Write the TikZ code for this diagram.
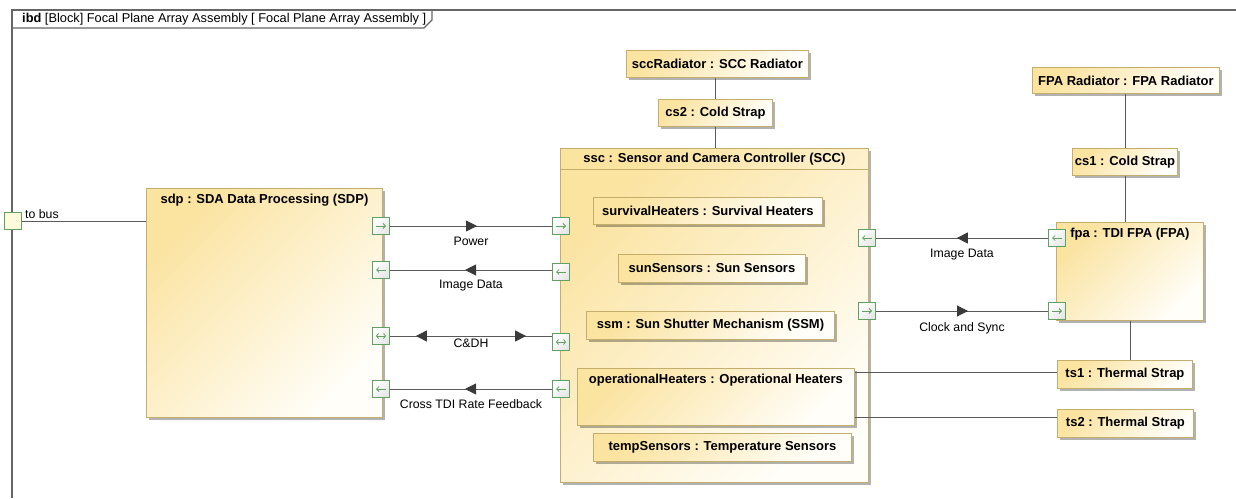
\documentclass[tikz,border=0pt]{standalone}
\usepackage{fontspec}
\setmainfont{Liberation Sans}
\usetikzlibrary{shadows,arrows.meta,decorations.markings,calc}

\definecolor{partborder}{HTML}{C4AE6E}
\definecolor{partyellow}{HTML}{FBE3A0}
\definecolor{partwhite}{HTML}{FFFEF9}
\definecolor{portgreen}{HTML}{62A062}
\definecolor{busfill}{HTML}{FDFBDC}
\definecolor{wire}{HTML}{5A5A5A}
\definecolor{tipdark}{HTML}{3A3A3A}
\definecolor{framec}{HTML}{666666}

\pgfdeclarelayer{portlayer}
\pgfsetlayers{main,portlayer}

\begin{document}
\begin{tikzpicture}[x=1pt,y=-1pt,
  part/.style={draw=partborder, line width=0.9pt, top color=partyellow,
    bottom color=partwhite, shading angle=45,
    drop shadow={shadow xshift=2.5pt, shadow yshift=-2.5pt, opacity=0.3, fill=black},
    anchor=north west, inner sep=0pt, font=\bfseries\fontsize{13}{15}\selectfont},
  ptitle/.style={anchor=north, inner sep=0pt, font=\bfseries\fontsize{13}{15}\selectfont},
  lbl/.style={inner sep=0pt, font=\fontsize{12.3}{14}\selectfont},
  wire/.style={draw=wire, line width=0.9pt},
  port/.style={draw=portgreen, line width=0.9pt, top color=white, bottom color=black!10,
    shading angle=45, minimum size=17pt, inner sep=0pt, anchor=center},
  glyph/.style={portgreen, line width=0.8pt},
  pright/.style={port, path picture={\draw[glyph, -{Straight Barb[length=2.5pt,width=5pt]}]
    ([xshift=-5pt]path picture bounding box.center) -- ([xshift=5pt]path picture bounding box.center);}},
  pleft/.style={port, path picture={\draw[glyph, -{Straight Barb[length=2.5pt,width=5pt]}]
    ([xshift=5pt]path picture bounding box.center) -- ([xshift=-5pt]path picture bounding box.center);}},
  pboth/.style={port, path picture={\draw[glyph, {Straight Barb[length=2pt,width=5pt]}-{Straight Barb[length=2pt,width=5pt]}]
    ([xshift=-5pt]path picture bounding box.center) -- ([xshift=5pt]path picture bounding box.center);}},
  flowat/.style={postaction={decorate, decoration={markings,
    mark=at position #1 with {\arrow{Triangle[length=11pt,width=11pt,fill=tipdark,color=tipdark]}}}}},
  flowback/.style={postaction={decorate, decoration={markings,
    mark=at position #1 with {\arrowreversed{Triangle[length=11pt,width=11pt,fill=tipdark,color=tipdark]}}}}}
]
\useasboundingbox (0,0) rectangle (1236,498);

% diagram frame with its name tab
\draw[framec, line width=1.1pt] (12,498) -- (12,10) -- (1236,10);
\draw[framec, line width=1.1pt] (12,28) -- (424,28) -- (432,20) -- (432,10);
\node[anchor=west, inner sep=0pt, font=\fontsize{12.8}{14}\selectfont] (frameTitle) at (22,19.5)
  {\textbf{ibd} [Block] Focal Plane Array Assembly [ Focal Plane Array Assembly ]};

% SDA data processing
\node[part, minimum width=236pt, minimum height=229pt] (sdp) at (146,188) {};
\node[ptitle] (sdpT) at ([yshift=-6pt]sdp.north) {sdp : SDA Data Processing (SDP)};

% sensor and camera controller with its inner parts
\node[part, minimum width=308pt, minimum height=334pt] (ssc) at (560,148) {};
\draw[partborder, line width=0.9pt] ([yshift=-21pt]ssc.north west) -- ([yshift=-21pt]ssc.north east);
\node[ptitle] (sscT) at ([yshift=-5pt]ssc.north) {ssc : Sensor and Camera Controller (SCC)};

\node[part, minimum width=229pt, minimum height=27pt] (survH) at (593,197) {survivalHeaters : Survival Heaters};
\node[part, minimum width=187pt, minimum height=28pt] (sunS) at (618,254) {sunSensors : Sun Sensors};
\node[part, minimum width=248pt, minimum height=28pt] (ssm) at (586,311) {ssm : Sun Shutter Mechanism (SSM)};
\node[part, minimum width=277pt, minimum height=57pt] (opH) at (577,368) {};
\node[ptitle] (opHT) at ([yshift=-6pt]opH.north) {operationalHeaters : Operational Heaters};
\node[part, minimum width=258pt, minimum height=28pt] (tempS) at (593,433) {tempSensors : Temperature Sensors};

% radiators, straps and focal plane array
\node[part, minimum width=182pt, minimum height=27pt] (sccRad) at (626,50) {sccRadiator : SCC Radiator};
\node[part, minimum width=114pt, minimum height=27pt] (cs2) at (658,99) {cs2 : Cold Strap};
\node[part, minimum width=187pt, minimum height=26pt] (fpaRad) at (1032,67) {FPA Radiator : FPA Radiator};
\node[part, minimum width=105pt, minimum height=27pt] (cs1) at (1072,148) {cs1 : Cold Strap};
\node[part, minimum width=147pt, minimum height=98pt] (fpa) at (1056,222) {};
\node[ptitle] (fpaT) at ([yshift=-6pt]fpa.north) {fpa : TDI FPA (FPA)};
\node[part, minimum width=135pt, minimum height=28pt] (ts1) at (1057,360) {ts1 : Thermal Strap};
\node[part, minimum width=136pt, minimum height=28pt] (ts2) at (1057,409) {ts2 : Thermal Strap};

% ports, kept above the wires
\begin{pgfonlayer}{portlayer}
\node[port, top color=busfill, bottom color=busfill] (bus) at (13,221) {};

\node[pright] (sdpP1) at (381,226) {};
\node[pleft]  (sdpP2) at (381,270) {};
\node[pboth]  (sdpP3) at (381,336) {};
\node[pleft]  (sdpP4) at (381,389) {};

\node[pright] (sscL1) at (561,226) {};
\node[pleft]  (sscL2) at (561,272) {};
\node[pboth]  (sscL3) at (561,342) {};
\node[pleft]  (sscL4) at (561,389) {};

\node[pleft]  (sscR1) at (867,238) {};
\node[pright] (sscR2) at (867,311) {};

\node[pleft]  (fpaP1) at (1057,238) {};
\node[pright] (fpaP2) at (1057,311) {};
\end{pgfonlayer}
\node[lbl, anchor=south west] (busL) at (25,219) {to bus};

% structural connectors
\draw[wire] (bus.east) -- (bus.east -| sdp.west);
\draw[wire] (cs2.north) -- (cs2.north |- sccRad.south);
\draw[wire] (cs2.south) -- (cs2.south |- ssc.north);
\draw[wire] (cs1.north) -- (cs1.north |- fpaRad.south);
\draw[wire] (cs1.south) -- (cs1.south |- fpa.north);
\draw[wire] (fpa.south) -- (fpa.south |- ts1.north);
\draw[wire] ([yshift=2pt]ts1.west) -- ([yshift=2pt]ts1.west -| opH.east);
\draw[wire] ([yshift=6pt]ts2.west) -- ([yshift=6pt]ts2.west -| opH.east);

% item flows between sdp and ssc
\draw[wire, flowat=0.537] (sdpP1.east) -- node[lbl, below=10.5pt] (fPow) {Power} (sscL1.west);
\draw[wire, flowat=0.537] (sscL2.west |- sdpP2.east) -- node[lbl, below=10pt] (fImg1) {Image Data} (sdpP2.east);
\draw[wire, flowat=0.84, flowback=0.16] (sdpP3.east) -- node[lbl, below=2pt] (fCdh) {C\&DH} (sdpP3.east -| sscL3.west);
\draw[wire, flowat=0.537] (sscL4.west) -- node[lbl, below=10pt] (fRate) {Cross TDI Rate Feedback} (sdpP4.east);

% item flows between ssc and fpa
\draw[wire, flowat=0.53] (fpaP1.west) -- node[lbl, below=11pt] (fImg2) {Image Data} (sscR1.east);
\draw[wire, flowat=0.535] (sscR2.east) -- node[lbl, below=11pt] (fClk) {Clock and Sync} (fpaP2.west);
\end{tikzpicture}
\end{document}
